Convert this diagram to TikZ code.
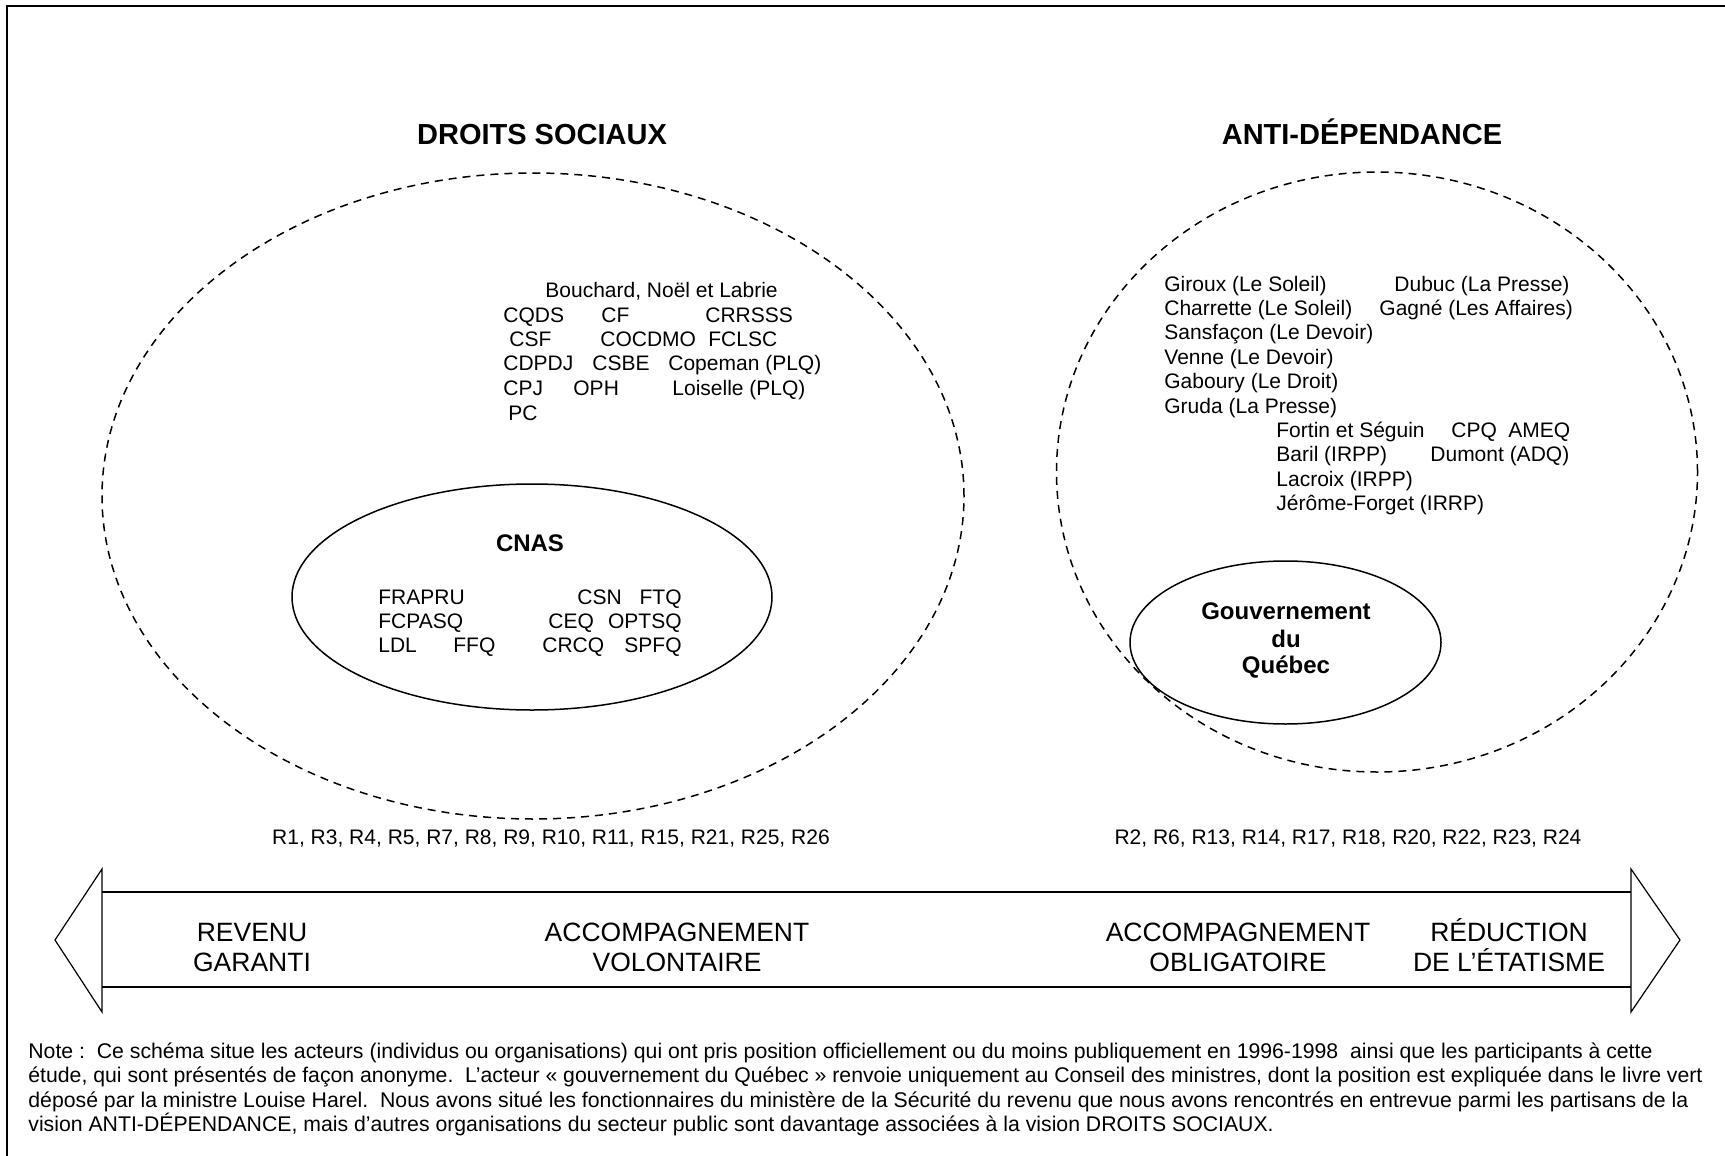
\documentclass[tikz,border=0pt]{standalone}
\usepackage{fontspec}
\setmainfont{Liberation Sans}
\usetikzlibrary{shapes.geometric}
\begin{document}
\begin{tikzpicture}[x=0.5pt,y=-0.5pt,
  lbl/.style={inner sep=0pt, anchor=base west, font=\fontsize{10.5}{12}\selectfont},
  notelbl/.style={inner sep=0pt, anchor=base west, font=\fontsize{10.62}{12}\selectfont},
  lblc/.style={inner sep=0pt, anchor=base, font=\fontsize{10.5}{12}\selectfont},
  lble/.style={inner sep=0pt, anchor=base east, font=\fontsize{10.5}{12}\selectfont},
  title/.style={inner sep=0pt, anchor=base, font=\fontsize{14.5}{16}\selectfont\bfseries},
  boldlbl/.style={inner sep=0pt, anchor=base, font=\fontsize{12}{14}\selectfont\bfseries},
  arrowlbl/.style={inner sep=0pt, anchor=center, align=center, font=\fontsize{13.25}{15}\selectfont},
  dashell/.style={ellipse, draw, dashed, dash pattern=on 4pt off 3pt, line width=0.75pt, inner sep=0pt, outer sep=0pt},
  solidell/.style={ellipse, draw, line width=0.75pt, inner sep=0pt, outer sep=0pt},
  frame/.style={line width=1pt},
  shaft/.style={line width=1.2pt},
  head/.style={line width=0.6pt, line join=miter}
]
\useasboundingbox (0,0) rectangle (1725,1156);
% frame
\draw[frame] (7,1156) -- (7,6) -- (1725,6);

% titles
\node[title] (tds) at (542,144.5) {DROITS SOCIAUX};
\node[title] (tad) at (1362,144.5) {ANTI-DÉPENDANCE};

% ellipses
\node[dashell, minimum width=431pt, minimum height=323pt] (eds) at (533,496) {};
\node[dashell, minimum width=320.5pt, minimum height=300pt] (ead) at (1377,472) {};
\node[solidell, minimum width=240pt, minimum height=113pt] (ecnas) at (532,597) {};
\node[solidell, minimum width=155.5pt, minimum height=81.5pt] (egq) at (1285.5,642.5) {};

% left text block
\node[lbl] (t01) at (545,297) {Bouchard, Noël et Labrie};
\node[lbl] (t11) at (503,322) {CQDS};
\node[lbl] (t12) at (601,322) {CF};
\node[lbl] (t13) at (705,322) {CRRSSS};
\node[lbl] (t21) at (509,346) {CSF};
\node[lbl] (t22) at (600,346) {COCDMO};
\node[lbl] (t23) at (708,346) {FCLSC};
\node[lbl] (t31) at (503,370.5) {CDPDJ};
\node[lbl] (t32) at (592,370.5) {CSBE};
\node[lbl] (t33) at (668,370.5) {Copeman (PLQ)};
\node[lbl] (t41) at (503,395) {CPJ};
\node[lbl] (t42) at (573,395) {OPH};
\node[lbl] (t43) at (672,395) {Loiselle (PLQ)};
\node[lbl] (t51) at (508,420) {PC};

% CNAS
\node[boldlbl] (cnas) at (530,551) {CNAS};
\node[lbl] (c11) at (378,604.5) {FRAPRU};
\node[lbl] (c21) at (378,628.5) {FCPASQ};
\node[lbl] (c31) at (378,652.5) {LDL};
\node[lbl] (c32) at (453,652.5) {FFQ};
\node[lbl] (c12) at (577,604.5) {CSN};
\node[lble] (c13) at (682,604.5) {FTQ};
\node[lbl] (c22) at (548,628.5) {CEQ};
\node[lble] (c23) at (682,628.5) {OPTSQ};
\node[lbl] (c32b) at (542,652.5) {CRCQ};
\node[lble] (c33) at (682,652.5) {SPFQ};

% right text block
\node[lbl] (r01) at (1164,291) {Giroux (Le Soleil)};
\node[lbl] (r02) at (1394,291) {Dubuc (La Presse)};
\node[lbl] (r11) at (1164,315.4) {Charrette (Le Soleil)};
\node[lbl] (r12) at (1379,315.4) {Gagné (Les Affaires)};
\node[lbl] (r21) at (1164,339.8) {Sansfaçon (Le Devoir)};
\node[lbl] (r31) at (1164,364.2) {Venne (Le Devoir)};
\node[lbl] (r41) at (1164,388.6) {Gaboury (Le Droit)};
\node[lbl] (r51) at (1164,413) {Gruda (La Presse)};
\node[lbl] (r61) at (1276,437.4) {Fortin et Séguin};
\node[lbl] (r62) at (1451,437.4) {CPQ};
\node[lbl] (r63) at (1508,437.4) {AMEQ};
\node[lbl] (r71) at (1276,461.8) {Baril (IRPP)};
\node[lbl] (r72) at (1430,461.8) {Dumont (ADQ)};
\node[lbl] (r81) at (1276,486.2) {Lacroix (IRPP)};
\node[lbl] (r91) at (1276,510.6) {Jérôme-Forget (IRRP)};

% Gouvernement du Québec
\node[boldlbl] (g1) at (1286,619) {Gouvernement};
\node[boldlbl] (g2) at (1286,647) {du};
\node[boldlbl] (g3) at (1286,673.5) {Québec};

% R lists
\node[lblc] (rl) at (551,844) {R1, R3, R4, R5, R7, R8, R9, R10, R11, R15, R21, R25, R26};
\node[lblc] (rr) at (1348,844) {R2, R6, R13, R14, R17, R18, R20, R22, R23, R24};

% double arrow
\coordinate (ltip) at (55,940);
\coordinate (lbt) at (102,869);
\coordinate (lbb) at (102,1012);
\coordinate (rtip) at (1680,940);
\coordinate (rbt) at (1631,869);
\coordinate (rbb) at (1631,1012);
\draw[head] (ltip) -- (lbt) -- (lbb) -- cycle;
\draw[head] (rtip) -- (rbt) -- (rbb) -- cycle;
\draw[shaft] (102,892) -- (1631,892);
\draw[shaft] (102,987) -- (1631,987);

\node[arrowlbl] (a1) at (252,948) {REVENU\\GARANTI};
\node[arrowlbl] (a2) at (677,947) {ACCOMPAGNEMENT\\VOLONTAIRE};
\node[arrowlbl] (a3) at (1238,947) {ACCOMPAGNEMENT\\OBLIGATOIRE};
\node[arrowlbl] (a4) at (1509,945) {RÉDUCTION\\DE L’ÉTATISME};

% note
\node[notelbl] (n1) at (28,1058) {Note :\ \ Ce schéma situe les acteurs (individus ou organisations) qui ont pris position officiellement ou du moins publiquement en 1996-1998\ \ ainsi que les participants à cette};
\node[notelbl] (n2) at (28,1082.5) {étude, qui sont présentés de façon anonyme.\ \ L’acteur «~gouvernement du Québec~» renvoie uniquement au Conseil des ministres, dont la position est expliquée dans le livre vert};
\node[notelbl] (n3) at (28,1107) {déposé par la ministre Louise Harel.\ \ Nous avons situé les fonctionnaires du ministère de la Sécurité du revenu que nous avons rencontrés en entrevue parmi les partisans de la};
\node[notelbl] (n4) at (28,1131.5) {vision ANTI-DÉPENDANCE, mais d’autres organisations du secteur public sont davantage associées à la vision DROITS SOCIAUX.};
\end{tikzpicture}
\end{document}
